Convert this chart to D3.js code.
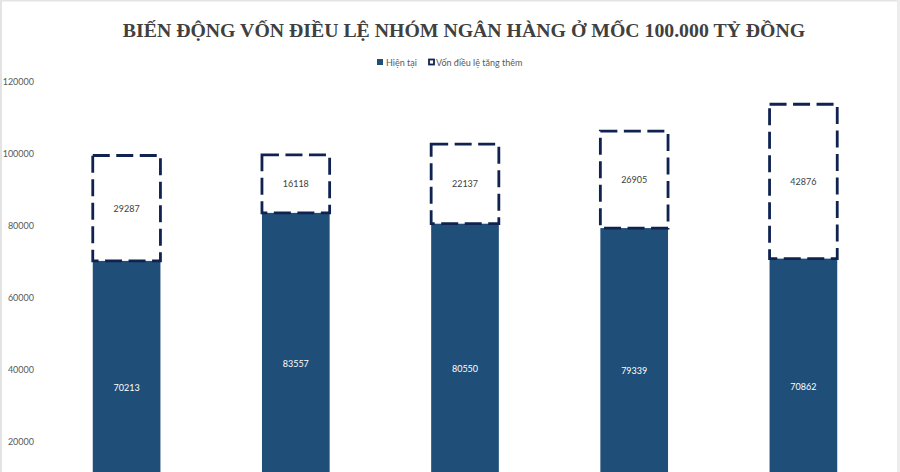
<!DOCTYPE html>
<html><head><meta charset="utf-8">
<script src="https://cdn.jsdelivr.net/npm/d3@7"></script>
<style>html,body{margin:0;padding:0;background:#fff;overflow:hidden}</style>
</head><body>
<svg id="c" width="900" height="472"></svg>
<script>
const title = "BIẾN ĐỘNG VỐN ĐIỀU LỆ NHÓM NGÂN HÀNG Ở MỐC 100.000 TỶ ĐỒNG";
const categories = ["Ngân hàng 1", "Ngân hàng 2", "Ngân hàng 3", "Ngân hàng 4", "Ngân hàng 5"];
const seriesNames = ["Hiện tại", "Vốn điều lệ tăng thêm"];
const current = [70213, 83557, 80550, 79339, 70862];
const added = [29287, 16118, 22137, 26905, 42876];
const yTicks = [20000, 40000, 60000, 80000, 100000, 120000];

const svg = d3.select("#c");
const W = 900, H = 472;
const barColor = "#1f4e79", boxColor = "#0f2250", textColor = "#595959";

svg.append("rect").attr("width", W).attr("height", H).attr("fill", "#fff");
// outer frame
svg.append("rect").attr("x", 0).attr("y", 0).attr("width", 2).attr("height", H).attr("fill", "#e3e3e3");
svg.append("rect").attr("x", 0).attr("y", 0).attr("width", W).attr("height", 1.5).attr("fill", "#e3e3e3");
svg.append("rect").attr("x", 897).attr("y", 0).attr("width", 3).attr("height", H).attr("fill", "#ececec");

const x = d3.scaleBand().domain(categories).range([42, 888]).paddingInner(0.6).paddingOuter(0.3);
const y = d3.scaleLinear().domain([0, 120000]).range([513.7, 81.7]);

// y axis
const yAxis = svg.append("g").attr("transform", "translate(38,0)")
  .call(d3.axisLeft(y).tickValues(yTicks).tickSize(0).tickPadding(4).tickFormat(d3.format("d")));
yAxis.select(".domain").remove();
yAxis.selectAll("text").attr("fill", textColor).style("font-family", "Lato, 'Open Sans', sans-serif").style("font-size", "9px");

// x axis baseline (lies below the visible area; category labels are cropped off in the reference)
const xAxis = svg.append("g").attr("transform", `translate(0,${y(0)})`).call(d3.axisBottom(x).tickSize(0).tickFormat(""));
xAxis.select(".domain").attr("stroke", "#d9d9d9");

const data = categories.map((c, i) => ({c, cur: current[i], add: added[i]}));

// current bars
svg.append("g").selectAll("rect").data(data).join("rect")
  .attr("x", d => x(d.c)).attr("width", x.bandwidth())
  .attr("y", d => y(d.cur)).attr("height", d => y(0) - y(d.cur))
  .attr("fill", barColor);

// added boxes
svg.append("g").selectAll("rect").data(data).join("rect")
  .attr("x", d => x(d.c)).attr("width", x.bandwidth())
  .attr("y", d => y(d.cur + d.add)).attr("height", d => y(d.cur) - y(d.cur + d.add))
  .attr("fill", "none").attr("stroke", boxColor).attr("stroke-width", 2.8)
  .attr("stroke-dasharray", "17,6.5");

// labels
const lblFont = "Lato, 'Open Sans', sans-serif";
svg.append("g").selectAll("text").data(data).join("text")
  .attr("x", d => x(d.c) + x.bandwidth() / 2).attr("y", d => (y(0) + y(d.cur)) / 2)
  .attr("text-anchor", "middle").attr("dominant-baseline", "central")
  .attr("fill", "#fff").style("font-family", lblFont).style("font-size", "9px")
  .text(d => d.cur);
svg.append("g").selectAll("text").data(data).join("text")
  .attr("x", d => x(d.c) + x.bandwidth() / 2).attr("y", d => (y(d.cur) + y(d.cur + d.add)) / 2)
  .attr("text-anchor", "middle").attr("dominant-baseline", "central")
  .attr("fill", "#404040").style("font-family", lblFont).style("font-size", "9px")
  .text(d => d.add);

// title
svg.append("text").attr("x", 464).attr("y", 37).attr("text-anchor", "middle")
  .attr("fill", "#404040").style("font-family", "'Liberation Serif', 'Times New Roman', serif")
  .style("font-weight", "bold").style("font-size", "19.8px").text(title);

// legend
const lg = svg.append("g");
lg.append("rect").attr("x", 377).attr("y", 59).attr("width", 6).attr("height", 6).attr("fill", barColor);
lg.append("text").attr("x", 386).attr("y", 62).attr("dominant-baseline", "central")
  .attr("fill", textColor).style("font-family", lblFont).style("font-size", "9px").text(seriesNames[0]);
lg.append("rect").attr("x", 429).attr("y", 59.5).attr("width", 5).attr("height", 5)
  .attr("fill", "none").attr("stroke", boxColor).attr("stroke-width", 1.8);
lg.append("text").attr("x", 436).attr("y", 62).attr("dominant-baseline", "central")
  .attr("fill", textColor).style("font-family", lblFont).style("font-size", "9px").text(seriesNames[1]);
</script>
</body></html>
